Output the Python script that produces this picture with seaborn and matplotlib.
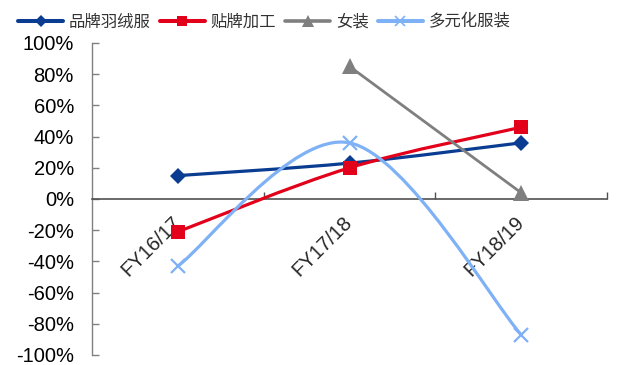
import numpy as np
import pandas as pd
import matplotlib
matplotlib.use("Agg")
import matplotlib.pyplot as plt
import seaborn as sns
from matplotlib.path import Path
from matplotlib.patches import PathPatch
from matplotlib.lines import Line2D

# Year-on-year growth by business segment (%)
periods = ["FY16/17", "FY17/18", "FY18/19"]
down_brand = [15, 23, 36]          # 品牌羽绒服
oem = [-21, 20, 46]                # 贴牌加工
womenswear = [np.nan, 85, 4]       # 女装
diversified = [-43, 36, -87]       # 多元化服装
y_ticks = list(range(-100, 101, 20))

series = [
    ("品牌羽绒服", down_brand, "#0A3D91", "D", 8.5, 2.3),
    ("贴牌加工", oem, "#E2001A", "s", 10, 2.3),
    ("女装", womenswear, "#7F7F7F", "^", 11, 2.0),
    ("多元化服装", diversified, "#7EB1F5", "x", 10, 2.3),
]

sns.set_theme(style="white")
plt.rcParams["font.family"] = ["Liberation Sans", "Noto Sans CJK SC", "DejaVu Sans"]

fig = plt.figure(figsize=(6.22, 3.65), dpi=100)
ax = fig.add_axes([92 / 622, 1 - 355 / 365, (607 - 92) / 622, (355 - 43) / 365])

x_pos = np.arange(len(periods))


def smooth_path(xs, ys):
    """Bezier path through the points (smoothed line as in office charts)."""
    pts = np.array([(x, y) for x, y in zip(xs, ys) if not np.isnan(y)], float)
    n = len(pts)
    verts = [pts[0]]
    codes = [Path.MOVETO]
    for i in range(n - 1):
        p_prev = pts[i - 1] if i > 0 else pts[i]
        p_next = pts[i + 2] if i + 2 < n else pts[i + 1]
        c1 = pts[i] + (pts[i + 1] - p_prev) / 6.0
        c2 = pts[i + 1] - (p_next - pts[i]) / 6.0
        verts += [c1, c2, pts[i + 1]]
        codes += [Path.CURVE4] * 3
    return Path(verts, codes)


handles = []
for k, (name, vals, color, marker, ms, lw) in enumerate(series):
    vals = np.asarray(vals, float)
    patch = PathPatch(smooth_path(x_pos, vals), facecolor="none", edgecolor=color,
                      lw=lw, zorder=3 + k * 2, capstyle="round", joinstyle="round")
    ax.add_patch(patch)
    df = pd.DataFrame({"x": x_pos, "y": vals}).dropna()
    mew = 1.6 if marker == "x" else 0
    sns.lineplot(data=df, x="x", y="y", ax=ax, linestyle="", marker=marker,
                 markersize=ms, color=color, markeredgecolor=color,
                 markeredgewidth=mew, zorder=4 + k * 2, legend=False)
    handles.append(Line2D([0], [0], color=color, lw=lw + 0.6, marker=marker,
                          markersize=ms * 0.75, markeredgecolor=color,
                          markeredgewidth=1.2 if marker == "x" else 0, label=name))

ax.set_xlim(-0.5, 2.5)
ax.set_ylim(-100, 100)
ax.set_xlabel("")
ax.set_ylabel("")

# y axis
ax.set_yticks(y_ticks)
ax.set_yticklabels([f"{v}%" for v in y_ticks])
ax.tick_params(axis="y", direction="in", length=5, width=1, color="#808080",
               pad=13, labelsize=14.5, labelcolor="black", left=True)

# category axis crossing at zero
for side in ("top", "right"):
    ax.spines[side].set_visible(False)
ax.spines["left"].set_color("#808080")
ax.spines["left"].set_linewidth(1)
ax.spines["bottom"].set_position(("data", 0))
ax.spines["bottom"].set_color("#505050")
ax.spines["bottom"].set_linewidth(1.2)

ax.set_xticks([0.5, 1.5, 2.5])
ax.set_xticklabels([])
ax.tick_params(axis="x", which="major", direction="in", length=5, width=1,
               color="#505050", bottom=True)
ax.set_xticks(x_pos, minor=True)
ax.set_xticklabels(periods, minor=True)
ax.tick_params(axis="x", which="minor", length=0, pad=15, labelsize=14.5)
for lab in ax.get_xticklabels(minor=True):
    lab.set_rotation(45)
    lab.set_rotation_mode("anchor")
    lab.set_ha("right")
    lab.set_va("center")

ax.grid(False)

fig.legend(handles=handles, loc="center left", bbox_to_anchor=(18 / 622, 1 - 22 / 365),
           ncol=4, frameon=False, handlelength=2.75,
           handletextpad=0.35, columnspacing=0.55, borderpad=0, borderaxespad=0,
           labelcolor="#333333", prop={"family": ["Noto Sans CJK SC", "DejaVu Sans"], "size": 11.8})

fig.savefig("out.png", dpi=100)
